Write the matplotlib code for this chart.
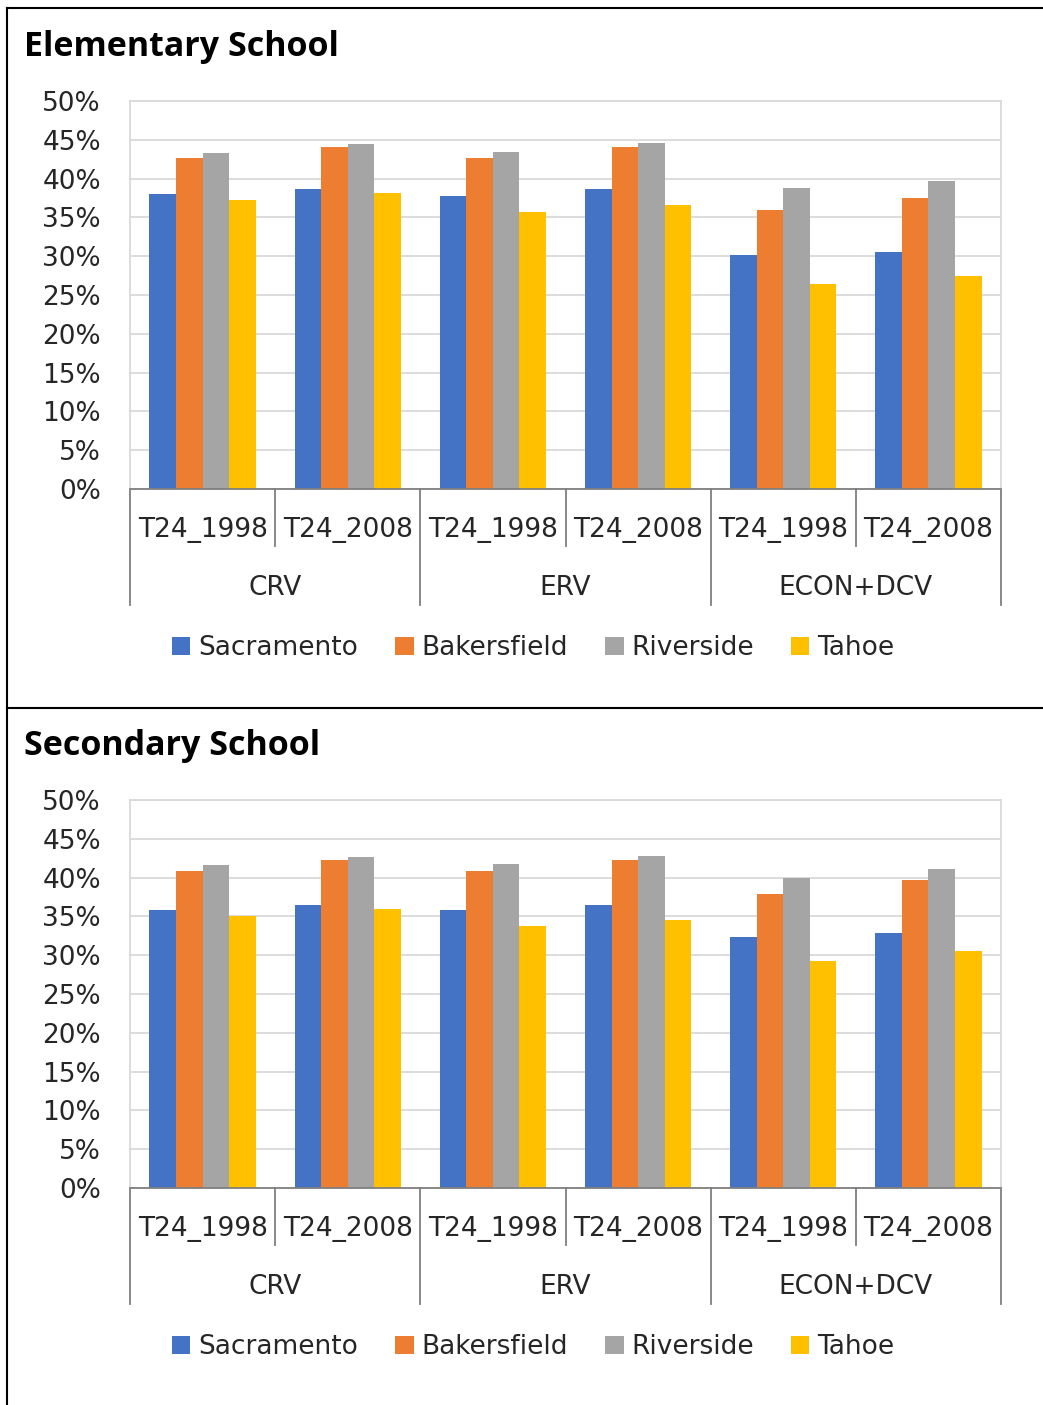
import matplotlib
matplotlib.use("Agg")
import matplotlib.pyplot as plt
import matplotlib.transforms as mtransforms
from matplotlib.lines import Line2D
from matplotlib.ticker import MultipleLocator, PercentFormatter

cities = ["Sacramento", "Bakersfield", "Riverside", "Tahoe"]
colors = ["#4472C4", "#ED7D31", "#A5A5A5", "#FFC000"]
groups = ["CRV", "ERV", "ECON+DCV"]
subcats = ["T24_1998", "T24_2008"]

# values in percent, order: CRV 1998, CRV 2008, ERV 1998, ERV 2008, ECON 1998, ECON 2008
elem_sacramento = [38.0, 38.7, 37.8, 38.7, 30.2, 30.6]
elem_bakersfield = [42.6, 44.1, 42.6, 44.1, 36.0, 37.5]
elem_riverside = [43.3, 44.4, 43.4, 44.6, 38.8, 39.7]
elem_tahoe = [37.3, 38.2, 35.7, 36.6, 26.4, 27.4]

sec_sacramento = [35.8, 36.5, 35.8, 36.5, 32.3, 32.9]
sec_bakersfield = [40.8, 42.3, 40.9, 42.3, 37.9, 39.7]
sec_riverside = [41.6, 42.7, 41.8, 42.8, 39.9, 41.1]
sec_tahoe = [35.1, 36.0, 33.8, 34.6, 29.2, 30.5]

panels = [
    ("Elementary School", [elem_sacramento, elem_bakersfield, elem_riverside, elem_tahoe]),
    ("Secondary School", [sec_sacramento, sec_bakersfield, sec_riverside, sec_tahoe]),
]

FONT = ["DejaVu Sans"]
W, H = 1043, 1405
fig = plt.figure(figsize=(W / 100, H / 100), dpi=100)

ax_left = 130 / W
ax_w = 871 / W
ax_h = 388 / H
tops = [101, 800]      # pixel y of the 50% line
title_y = [47, 746]

n_sub = len(groups) * len(subcats)
bar_w = 0.183

for (title, series), top, ty in zip(panels, tops, title_y):
    bottom_px = top + 388
    ax = fig.add_axes([ax_left, 1 - bottom_px / H, ax_w, ax_h])
    x = list(range(n_sub))
    for i, (vals, c, name) in enumerate(zip(series, colors, cities)):
        offs = (i - 1.5) * bar_w
        ax.bar([v + offs for v in x], vals, width=bar_w, color=c, label=name, zorder=3)

    ax.set_xlim(-0.5, n_sub - 0.5)
    ax.set_ylim(0, 50)
    ax.yaxis.set_major_locator(MultipleLocator(5))
    ax.yaxis.set_major_formatter(PercentFormatter(decimals=0))
    ax.grid(axis="y", color="#d9d9d9", linewidth=1.3, zorder=0)
    ax.set_xticks([])
    ax.tick_params(axis="y", length=0, pad=21, labelsize=19, labelcolor="#262626")
    for lab in ax.get_yticklabels():
        lab.set_family(FONT)
    for s in ["top", "left", "right"]:
        ax.spines[s].set_color("#d9d9d9")
        ax.spines[s].set_linewidth(1.3)
    ax.spines["bottom"].set_color("#7f7f7f")
    ax.spines["bottom"].set_linewidth(1.3)
    ax.spines["bottom"].set_zorder(4)

    trans = mtransforms.blended_transform_factory(ax.transData, ax.transAxes)
    # subcategory labels and short separators
    for k in range(n_sub):
        ax.text(k, -0.106, subcats[k % 2], transform=trans, ha="center", va="center",
                fontsize=19, color="#262626", family=FONT)
    for k in range(len(groups)):
        xs = 2 * k + 0.5
        ax.plot([xs, xs], [0, -0.147], transform=trans, color="#7f7f7f", lw=1.3, clip_on=False)
    # group labels and long separators
    for k, g in enumerate(groups):
        ax.text(2 * k + 0.5, -0.255, g, transform=trans, ha="center", va="center",
                fontsize=19, color="#262626", family=FONT)
    for k in range(len(groups) + 1):
        xs = 2 * k - 0.5
        ax.plot([xs, xs], [0, -0.299], transform=trans, color="#7f7f7f", lw=1.3, clip_on=False)

    leg = ax.legend(loc="center", bbox_to_anchor=(0.463, -0.41), ncol=4, frameon=False,
                    handlelength=0.7, handleheight=0.7, handletextpad=0.3, columnspacing=1.4,
                    prop={"family": FONT, "size": 19})
    for t in leg.get_texts():
        t.set_color("#262626")

    fig.text(24 / W, 1 - ty / H, title, ha="left", va="center", fontsize=24.5,
             fontweight="bold", family=["Open Sans", "DejaVu Sans"], color="black")

# outer frame and divider
lw = 1.5
fig.add_artist(Line2D([7 / W, 1], [1 - 8 / H, 1 - 8 / H], color="black", lw=lw, transform=fig.transFigure))
fig.add_artist(Line2D([7 / W, 7 / W], [1 - 8 / H, 0], color="black", lw=lw, transform=fig.transFigure))
fig.add_artist(Line2D([7 / W, 1], [1 - 708 / H, 1 - 708 / H], color="black", lw=lw, transform=fig.transFigure))

fig.savefig("out.png", dpi=100, facecolor="white")
